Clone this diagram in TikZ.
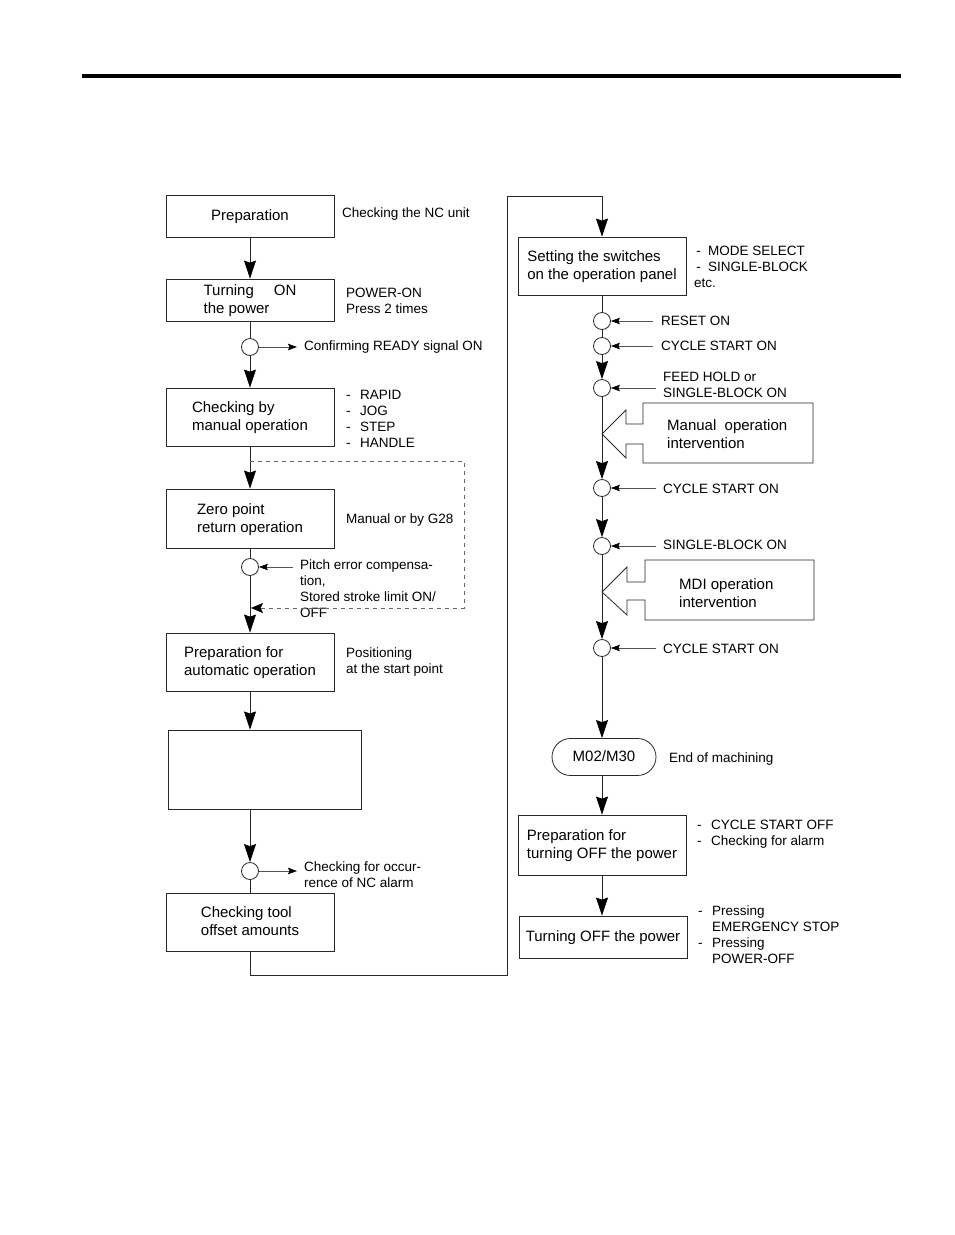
\documentclass[tikz,border=0pt]{standalone}
\usepackage{fontspec}
\setmainfont{Liberation Sans}
\usetikzlibrary{arrows.meta}
\definecolor{lineblack}{RGB}{40,40,40}

\newcommand{\boxfont}{\fontsize{15}{18}\selectfont}
\newcommand{\notefont}{\fontsize{13.5}{16}\selectfont}
\newcommand{\dashitem}[1]{\makebox[14pt][l]{-}#1}

\tikzset{
    stepbox/.style={draw=lineblack, line width=0.8pt, font=\boxfont, align=left, minimum width=168pt, inner sep=0pt, text depth=1pt},
    note/.style={font=\notefont, align=left, anchor=west, inner xsep=7pt, inner ysep=1pt},
    dot/.style={circle, draw=lineblack, line width=0.8pt, minimum size=17pt, inner sep=0pt},
    link/.style={draw=lineblack, line width=0.8pt},
    flow/.style={link, -{Stealth[length=18pt,width=12pt,inset=2pt,color=black]}},
    signal/.style={draw=lineblack!80, line width=0.7pt, -{Stealth[length=9pt,width=6.5pt,inset=1.5pt,color=black]}},
    feedback/.style={draw=lineblack!70, line width=0.7pt, dash pattern=on 4pt off 4pt, -{Stealth[length=12pt,width=10pt,inset=2.5pt,color=black]}}
}

\begin{document}
\begin{tikzpicture}[x=1pt, y=-1pt]
    \useasboundingbox (0,0) rectangle (954,1235);
    \draw[line width=3.5pt] (82,76) -- (901,76);

    % left column
    \node[stepbox, minimum height=42pt] (prep) at (250,216) {Preparation};
    \node[stepbox, minimum height=42pt] (power) at (250,300) {Turning\hspace{20pt}ON\\the power};
    \node[dot] (c1) at (250,347) {};
    \node[stepbox, minimum height=58pt] (manual) at (250,417) {Checking by\\manual operation};
    \node[stepbox, minimum height=59pt] (zero) at (250,518.5) {Zero point\\return operation};
    \node[dot] (c2) at (250,567) {};
    \node[stepbox, minimum height=58pt] (auto) at (250,662) {Preparation for\\automatic operation};
    \node[stepbox, minimum width=193pt, minimum height=79pt, line width=1pt] (blank) at (264.5,769.5) {};
    \node[dot] (c3) at (250,871) {};
    \node[stepbox, minimum height=58pt] (tool) at (250,922) {Checking tool\\offset amounts};

    \node[note] (nc) at (335,214) {Checking the NC unit};
    \node[note] (pon) at (339,300.5) {POWER-ON\\Press 2 times};
    \node[note] (ready) at (297,347) {Confirming READY signal ON};
    \node[note] (modes) at (339,419) {\dashitem{RAPID}\\\dashitem{JOG}\\\dashitem{STEP}\\\dashitem{HANDLE}};
    \node[note] (g28) at (339,520) {Manual or by G28};
    \node[note] (pitch) at (293,589) {Pitch error compensa-\\tion,\\Stored stroke limit ON/\\OFF};
    \node[note] (pos) at (339,662) {Positioning\\at the start point};
    \node[note] (alarm) at (297,875) {Checking for occur-\\rence of NC alarm};

    \draw[flow] (prep) -- (power);
    \draw[link] (power) -- (c1);
    \draw[flow] (c1) -- (manual);
    \draw[flow] (manual) -- (zero);
    \draw[link] (zero) -- (c2);
    \draw[flow] (c2) -- (auto);
    \draw[flow] (auto.south) -- (auto.south |- blank.north);
    \draw[flow] (blank.south -| c3) -- (c3);
    \draw[link] (c3) -- (tool);

    \draw[signal] (c1) -- (c1 -| ready.west);
    \draw[signal] (c2 -| pitch.west) -- (c2);
    \draw[signal] (c3) -- (c3 -| alarm.west);

    \coordinate (loopa) at (250,461);
    \coordinate (loopb) at (464,461);
    \coordinate (loopc) at (464,608);
    \coordinate (loopd) at (251,608);
    \draw[feedback] (loopa) -- (loopb) -- (loopc) -- (loopd);

    % right column
    \node[stepbox, minimum height=58pt] (set) at (602,266) {Setting the switches\\on the operation panel};
    \node[dot] (r1) at (602,321) {};
    \node[dot] (r2) at (602,346) {};
    \node[dot] (r3) at (602,388) {};
    \node[dot] (r4) at (602,488) {};
    \node[dot] (r5) at (602,546) {};
    \node[dot] (r6) at (602,648) {};
    \node[stepbox, rounded corners=18.5pt, minimum width=104pt, minimum height=37pt, align=center] (end) at (604,757) {M02/M30};
    \node[stepbox, minimum height=60pt] (offprep) at (602,845) {Preparation for\\turning OFF the power};
    \node[stepbox, minimum height=42pt] (off) at (603,937) {Turning OFF the power};

    \node[note, inner xsep=0pt] (sel) at (694,267) {\makebox[14pt][l]{\,-}MODE SELECT\\\makebox[14pt][l]{\,-}SINGLE-BLOCK\\etc.};
    \node[note, inner xsep=8pt] (reset) at (653,321) {RESET ON};
    \node[note, inner xsep=8pt] (start1) at (653,346) {CYCLE START ON};
    \node[note] (hold) at (656,385) {FEED HOLD or\\SINGLE-BLOCK ON};
    \node[note] (start2) at (656,489) {CYCLE START ON};
    \node[note] (single) at (656,545) {SINGLE-BLOCK ON};
    \node[note] (start3) at (656,649) {CYCLE START ON};
    \node[note] (endnote) at (662,759) {End of machining};
    \node[note] (offchk) at (690,834.5) {\dashitem{CYCLE START OFF}\\\dashitem{Checking for alarm}};
    \node[note] (offhow) at (691,935) {\dashitem{Pressing}\\\hspace*{14pt}EMERGENCY STOP\\\dashitem{Pressing}\\\hspace*{14pt}POWER-OFF};

    \draw[link] (813,403) -- (643,403) -- (643,424) -- (626,424) -- (626,410) -- (602,434)
        -- (626,458) -- (626,444) -- (643,444) -- (643,463) -- (813,463) -- cycle;
    \node[font=\boxfont, align=left, anchor=west, inner sep=0pt] (manint) at (667,434.5) {Manual\ \ operation\\intervention};
    \draw[link] (814,560) -- (645,560) -- (645,582) -- (627,582) -- (627,567) -- (602,592)
        -- (627,615) -- (627,600) -- (645,600) -- (645,620) -- (814,620) -- cycle;
    \node[font=\boxfont, align=left, anchor=west, inner sep=0pt] (mdiint) at (679,593) {MDI operation\\intervention};

    \draw[link] (set) -- (r1);
    \draw[link] (r1) -- (r2);
    \draw[flow] (r2) -- (r3);
    \draw[flow] (r3) -- (r4);
    \draw[flow] (r4) -- (r5);
    \draw[flow] (r5) -- (r6);
    \draw[flow] (r6) -- (r6 |- end.north);
    \draw[flow] (end.south -| offprep) -- (offprep);
    \draw[flow] (offprep) -- (off.north -| offprep);

    \draw[signal] (r1 -| reset.west) -- (r1);
    \draw[signal] (r2 -| start1.west) -- (r2);
    \draw[signal] (r3 -| hold.west) -- (r3);
    \draw[signal] (r4 -| start2.west) -- (r4);
    \draw[signal] (r5 -| single.west) -- (r5);
    \draw[signal] (r6 -| start3.west) -- (r6);

    % return path
    \coordinate (retb) at (507,975);
    \coordinate (rett) at (507,196);
    \draw[flow] (tool.south) |- (retb) -- (rett) -| (set.north);
\end{tikzpicture}
\end{document}
